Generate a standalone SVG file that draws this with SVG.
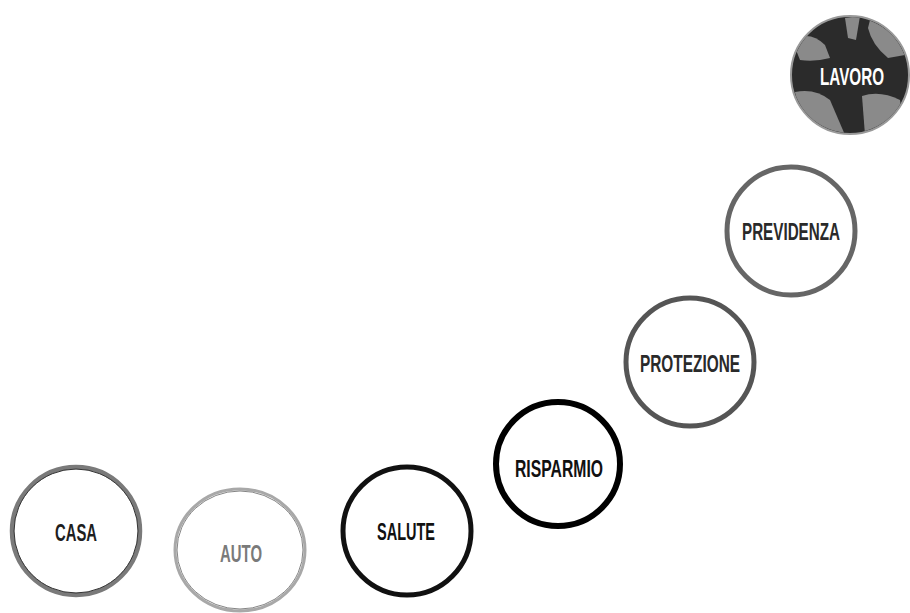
<svg xmlns="http://www.w3.org/2000/svg" width="910" height="613" viewBox="0 0 910 613">
<style>
.lbl{font-family:"Liberation Sans","DejaVu Sans",sans-serif;font-weight:bold;font-size:23px;text-anchor:middle}
.ring{fill:#fff}
</style>
<defs>
<clipPath id="lavClip"><circle cx="850" cy="75" r="58"/></clipPath>
</defs>
<rect width="910" height="613" fill="#fff"/>
<g id="casa">
<circle class="ring" cx="76" cy="531" r="64" stroke="#7a7a7a" stroke-width="4.5"/>
<circle cx="76" cy="531" r="62" fill="none" stroke="#333" stroke-width="1"/>
<text class="lbl" x="76" y="541" fill="#1e1e1e" textLength="42" lengthAdjust="spacingAndGlyphs">CASA</text>
</g>
<g id="auto">
<ellipse class="ring" cx="240" cy="550" rx="65" ry="61" stroke="#a8a8a8" stroke-width="3"/>
<ellipse cx="240" cy="550" rx="63" ry="59" fill="none" stroke="#666" stroke-width="0.8"/>
<text class="lbl" x="241" y="562" fill="#7a7a7a" textLength="42" lengthAdjust="spacingAndGlyphs">AUTO</text>
</g>
<g id="salute">
<circle class="ring" cx="407" cy="531" r="64" stroke="#111" stroke-width="5"/>
<text class="lbl" x="406" y="540" fill="#111" textLength="58" lengthAdjust="spacingAndGlyphs">SALUTE</text>
</g>
<g id="risparmio">
<circle class="ring" cx="558" cy="464" r="62" stroke="#000" stroke-width="6"/>
<text class="lbl" x="559" y="477" fill="#111" textLength="88" lengthAdjust="spacingAndGlyphs">RISPARMIO</text>
</g>
<g id="protezione">
<circle class="ring" cx="690" cy="362" r="64" stroke="#555" stroke-width="5"/>
<text class="lbl" x="690" y="372" fill="#2a2a2a" textLength="100" lengthAdjust="spacingAndGlyphs">PROTEZIONE</text>
</g>
<g id="previdenza">
<circle class="ring" cx="791" cy="231" r="64" stroke="#666" stroke-width="5"/>
<text class="lbl" x="791" y="240" fill="#2a2a2a" textLength="98" lengthAdjust="spacingAndGlyphs">PREVIDENZA</text>
</g>
<g id="lavoro">
<circle cx="850" cy="75" r="59" fill="#2b2b2b" stroke="#999" stroke-width="2"/>
<g clip-path="url(#lavClip)" fill="#8a8a8a">
<path d="M792,40 Q810,30 825,45 L830,58 Q815,62 800,60 Z"/>
<path d="M870,20 Q895,30 905,55 L888,58 Q872,45 868,28 Z"/>
<path d="M795,92 Q815,88 830,100 L845,135 L800,135 Z"/>
<path d="M862,96 Q880,90 900,100 L905,135 L865,135 Z"/>
<path d="M845,18 L860,16 L856,40 L848,38 Z"/>
</g>
<text class="lbl" x="852" y="85" fill="#fff" textLength="64" lengthAdjust="spacingAndGlyphs">LAVORO</text>
</g>
</svg>
